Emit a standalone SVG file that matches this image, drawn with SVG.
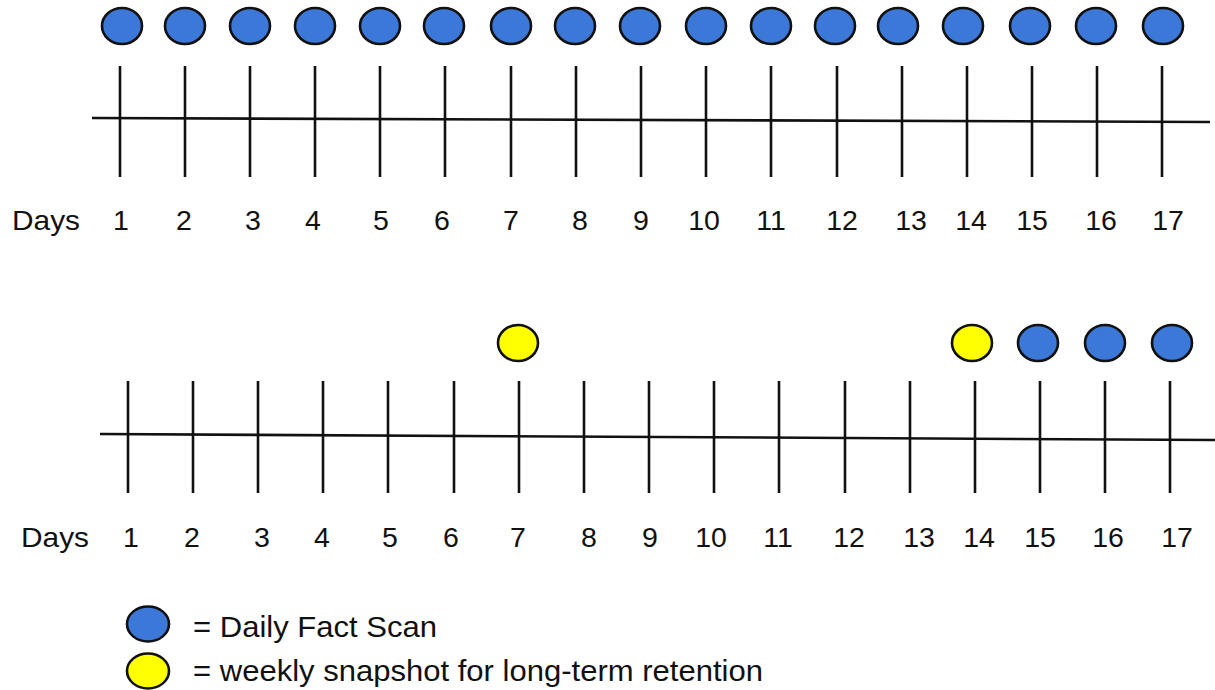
<svg xmlns="http://www.w3.org/2000/svg" width="1215" height="690" viewBox="0 0 1215 690">
<style>
.tk{stroke:#111;stroke-width:2.6;fill:none}
.ax{stroke:#111;stroke-width:2.6;fill:none}
.b{fill:#3c78d8;stroke:#111;stroke-width:2.6}
.y{fill:#ffff00;stroke:#111;stroke-width:2.6}
text{font-family:"Liberation Sans",Arial,sans-serif;font-size:28.5px;fill:#111}
.n{text-anchor:middle}
.lg{font-size:30px}
</style>
<rect width="1215" height="690" fill="#fff"/>
<g id="connectors">
<line class="ax" x1="92" y1="118" x2="1210" y2="122"/>
<line class="ax" x1="100" y1="434" x2="1215" y2="440"/>
<g id="ticks-top">
<line class="tk" x1="120" y1="66" x2="120" y2="177"/>
<line class="tk" x1="185" y1="66" x2="185" y2="177"/>
<line class="tk" x1="250" y1="66" x2="250" y2="177"/>
<line class="tk" x1="315" y1="66" x2="315" y2="177"/>
<line class="tk" x1="380" y1="66" x2="380" y2="177"/>
<line class="tk" x1="445" y1="66" x2="445" y2="177"/>
<line class="tk" x1="511" y1="66" x2="511" y2="177"/>
<line class="tk" x1="576" y1="66" x2="576" y2="177"/>
<line class="tk" x1="641" y1="66" x2="641" y2="177"/>
<line class="tk" x1="706" y1="66" x2="706" y2="177"/>
<line class="tk" x1="771" y1="66" x2="771" y2="177"/>
<line class="tk" x1="837" y1="66" x2="837" y2="177"/>
<line class="tk" x1="902" y1="66" x2="902" y2="177"/>
<line class="tk" x1="967" y1="66" x2="967" y2="177"/>
<line class="tk" x1="1032" y1="66" x2="1032" y2="177"/>
<line class="tk" x1="1097" y1="66" x2="1097" y2="177"/>
<line class="tk" x1="1162" y1="66" x2="1162" y2="177"/>
</g>
<g id="ticks-bottom">
<line class="tk" x1="128" y1="381" x2="128" y2="493"/>
<line class="tk" x1="193" y1="381" x2="193" y2="493"/>
<line class="tk" x1="258" y1="381" x2="258" y2="493"/>
<line class="tk" x1="323" y1="381" x2="323" y2="493"/>
<line class="tk" x1="388" y1="381" x2="388" y2="493"/>
<line class="tk" x1="454" y1="381" x2="454" y2="493"/>
<line class="tk" x1="519" y1="381" x2="519" y2="493"/>
<line class="tk" x1="584" y1="381" x2="584" y2="493"/>
<line class="tk" x1="649" y1="381" x2="649" y2="493"/>
<line class="tk" x1="714" y1="381" x2="714" y2="493"/>
<line class="tk" x1="779" y1="381" x2="779" y2="493"/>
<line class="tk" x1="845" y1="381" x2="845" y2="493"/>
<line class="tk" x1="910" y1="381" x2="910" y2="493"/>
<line class="tk" x1="975" y1="381" x2="975" y2="493"/>
<line class="tk" x1="1040" y1="381" x2="1040" y2="493"/>
<line class="tk" x1="1105" y1="381" x2="1105" y2="493"/>
<line class="tk" x1="1170" y1="381" x2="1170" y2="493"/>
</g>
</g>
<g id="scans-top">
<ellipse class="b" cx="122" cy="26" rx="20" ry="18"/>
<ellipse class="b" cx="185" cy="26" rx="20" ry="18"/>
<ellipse class="b" cx="250" cy="26" rx="20" ry="18"/>
<ellipse class="b" cx="315" cy="26" rx="20" ry="18"/>
<ellipse class="b" cx="380" cy="26" rx="20" ry="18"/>
<ellipse class="b" cx="444" cy="26" rx="20" ry="18"/>
<ellipse class="b" cx="511" cy="26" rx="20" ry="18"/>
<ellipse class="b" cx="575" cy="26" rx="20" ry="18"/>
<ellipse class="b" cx="640" cy="26" rx="20" ry="18"/>
<ellipse class="b" cx="706" cy="26" rx="20" ry="18"/>
<ellipse class="b" cx="771" cy="26" rx="20" ry="18"/>
<ellipse class="b" cx="835" cy="26" rx="20" ry="18"/>
<ellipse class="b" cx="898" cy="26" rx="20" ry="18"/>
<ellipse class="b" cx="963" cy="26" rx="20" ry="18"/>
<ellipse class="b" cx="1030" cy="26" rx="20" ry="18"/>
<ellipse class="b" cx="1096" cy="26" rx="20" ry="18"/>
<ellipse class="b" cx="1163" cy="26" rx="20" ry="18"/>
</g>
<g id="scans-bottom">
<ellipse class="y" cx="518" cy="343" rx="20" ry="18"/>
<ellipse class="y" cx="972" cy="343" rx="20" ry="18"/>
<ellipse class="b" cx="1038" cy="343" rx="20" ry="18"/>
<ellipse class="b" cx="1105" cy="343" rx="20" ry="18"/>
<ellipse class="b" cx="1172" cy="343" rx="20" ry="18"/>
</g>
<g id="labels-top">
<text x="12" y="230" textLength="68" lengthAdjust="spacingAndGlyphs">Days</text>
<text class="n" x="121" y="230">1</text>
<text class="n" x="184" y="230">2</text>
<text class="n" x="253" y="230">3</text>
<text class="n" x="313" y="230">4</text>
<text class="n" x="381" y="230">5</text>
<text class="n" x="442" y="230">6</text>
<text class="n" x="511" y="230">7</text>
<text class="n" x="580" y="230">8</text>
<text class="n" x="641" y="230">9</text>
<text class="n" x="704" y="230">10</text>
<text class="n" x="771" y="230">11</text>
<text class="n" x="842" y="230">12</text>
<text class="n" x="911" y="230">13</text>
<text class="n" x="971" y="230">14</text>
<text class="n" x="1032" y="230">15</text>
<text class="n" x="1101" y="230">16</text>
<text class="n" x="1168" y="230">17</text>
</g>
<g id="labels-bottom">
<text x="21" y="547" textLength="68" lengthAdjust="spacingAndGlyphs">Days</text>
<text class="n" x="131" y="547">1</text>
<text class="n" x="192" y="547">2</text>
<text class="n" x="262" y="547">3</text>
<text class="n" x="322" y="547">4</text>
<text class="n" x="390" y="547">5</text>
<text class="n" x="451" y="547">6</text>
<text class="n" x="518" y="547">7</text>
<text class="n" x="589" y="547">8</text>
<text class="n" x="650" y="547">9</text>
<text class="n" x="711" y="547">10</text>
<text class="n" x="778" y="547">11</text>
<text class="n" x="849" y="547">12</text>
<text class="n" x="919" y="547">13</text>
<text class="n" x="979" y="547">14</text>
<text class="n" x="1040" y="547">15</text>
<text class="n" x="1108" y="547">16</text>
<text class="n" x="1177" y="547">17</text>
</g>
<g id="legend">
<ellipse class="b" cx="148" cy="624" rx="21" ry="17.5"/>
<ellipse class="y" cx="148" cy="671" rx="21" ry="17.5"/>
<text class="lg" x="193" y="637" textLength="244" lengthAdjust="spacingAndGlyphs">= Daily Fact Scan</text>
<text class="lg" x="193" y="681" textLength="570" lengthAdjust="spacingAndGlyphs">= weekly snapshot for long-term retention</text>
</g>
</svg>
